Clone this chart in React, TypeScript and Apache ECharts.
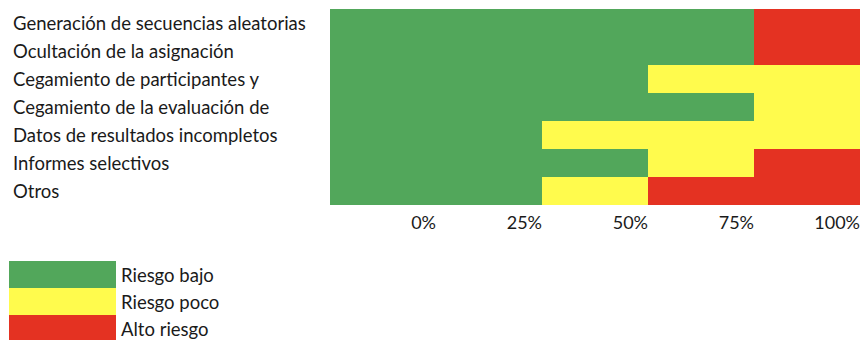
import React, { useEffect, useRef } from "react";
import * as echarts from "echarts";

const categories = [
  "Generación de secuencias aleatorias",
  "Ocultación de la asignación",
  "Cegamiento de participantes y",
  "Cegamiento de la evaluación de",
  "Datos de resultados incompletos",
  "Informes selectivos",
  "Otros",
];

const seriesNames = ["Riesgo bajo", "Riesgo poco", "Alto riesgo"];
const lowRisk = [80, 80, 60, 80, 40, 60, 40];
const someRisk = [0, 0, 40, 20, 60, 20, 20];
const highRisk = [20, 20, 0, 0, 0, 20, 40];
const tickLabels = [0, 25, 50, 75, 100];

const colors = ["#52a75b", "#fffb4d", "#e43222"];
const FONT = "Lato, 'Open Sans', sans-serif";

export default function App() {
  const ref = useRef<HTMLDivElement>(null);
  useEffect(() => {
    if (!ref.current) return;
    const chart = echarts.init(ref.current, null, { renderer: "svg" });
    const values = [lowRisk, someRisk, highRisk];
    chart.setOption({
      animation: false,
      color: colors,
      grid: { left: 330, right: 0, top: 9, bottom: 135, containLabel: false },
      legend: {
        data: seriesNames,
        orient: "vertical",
        left: 9,
        top: 261,
        height: 200,
        itemWidth: 107,
        itemHeight: 27,
        itemGap: 0,
        padding: 0,
        icon: "rect",
        selectedMode: false,
        textStyle: {
          fontFamily: FONT,
          fontSize: 18.5,
          color: "#1a1a1a",
          padding: [6, 0, 0, 0],
        },
      },
      xAxis: [
        { type: "value", min: 0, max: 100, show: false },
        {
          type: "value",
          min: -25,
          max: 100,
          interval: 25,
          position: "bottom",
          axisLine: { show: false },
          axisTick: { show: false },
          splitLine: { show: false },
          axisLabel: {
            show: true,
            align: "right",
            margin: 8,
            fontFamily: FONT,
            fontSize: 18,
            color: "#1a1a1a",
            formatter: (v: number) =>
              tickLabels.indexOf(v) >= 0 ? v + "%" : "",
          },
        },
      ],
      yAxis: {
        type: "category",
        data: categories,
        inverse: true,
        axisLine: { show: false },
        axisTick: { show: false },
        splitLine: { show: false },
        axisLabel: {
          align: "left",
          margin: 317,
          fontFamily: FONT,
          fontSize: 18.5,
          color: "#1a1a1a",
        },
      },
      series: seriesNames.map((name, i) => ({
        name,
        type: "bar",
        stack: "total",
        xAxisIndex: 0,
        barWidth: "100%",
        barCategoryGap: 0,
        data: values[i],
        itemStyle: { color: colors[i] },
      })),
    });
    return () => chart.dispose();
  }, []);
  return <div ref={ref} style={{ width: 863, height: 340, position: "absolute", left: 0, top: 0 }} />;
}
